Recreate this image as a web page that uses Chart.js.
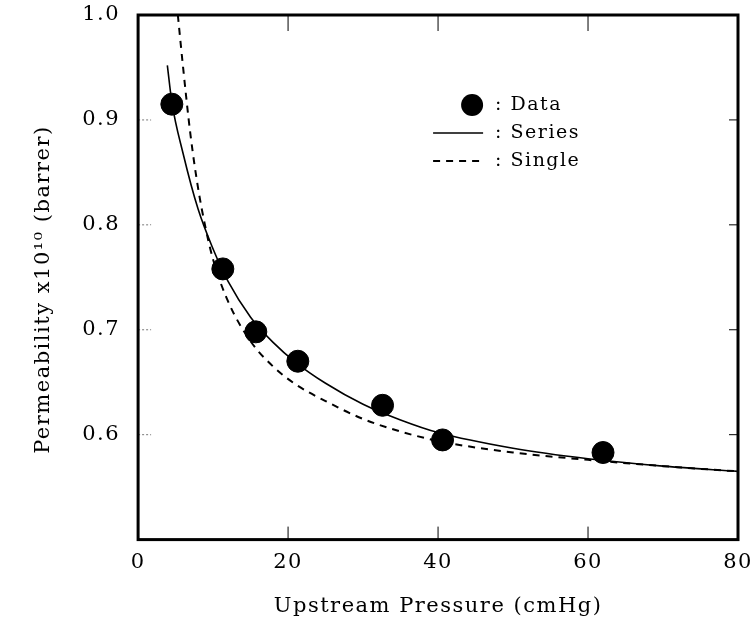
<!DOCTYPE html>
<html>
<head>
<meta charset="utf-8">
<script src="https://cdn.jsdelivr.net/npm/chart.js@4.4.1/dist/chart.umd.min.js"></script>
<style>
  html,body{margin:0;padding:0;background:#fff;}
  #wrap{width:752px;height:633px;}
</style>
</head>
<body>
<div id="wrap"><canvas id="permChart"></canvas></div>
<script>
// ---- data ----
const dataPressure=[4.5,11.3,15.7,21.3,32.6,40.6,62.0];
const dataPerm=[0.915,0.758,0.698,0.670,0.628,0.595,0.583];

const seriesPressure=[3.9,4.5,6,8,10,12,15,18,21,25,30,35,40,50,60,70,80];
const seriesPerm=[0.952,0.917,0.868,0.815,0.777,0.746,0.712,0.688,0.669,0.649,0.629,0.614,0.602,0.587,0.577,0.570,0.565];

const singlePressure=[5.3,6,7,8,9,10,12,15,18,21,25,30,35,40,50,60,70,80];
const singlePerm=[1.0,0.95,0.885,0.835,0.797,0.767,0.727,0.689,0.665,0.648,0.632,0.615,0.603,0.594,0.583,0.576,0.570,0.565];

const legendLabels=['Data','Series','Single'];
const xTicks=[0,20,40,60,80];
const yTicks=[0.6,0.7,0.8,0.9,1.0];

const FONT='"DejaVu Serif", "Liberation Serif", serif';
const toXY=(xs,ys)=>xs.map((x,i)=>({x:x,y:ys[i]}));

// letter spacing like the typeset original
const spacing={
  id:'spacing',
  beforeUpdate(chart){chart.ctx.letterSpacing='1.5px';},
  beforeDraw(chart){chart.ctx.letterSpacing='1.5px';}
};

// thick frame + inward ticks on all four sides
const frame={
  id:'frame',
  afterDatasetsDraw(chart){
    const {ctx,chartArea:a,scales:{x,y}}=chart;
    ctx.save();
    ctx.strokeStyle='#000';
    ctx.lineWidth=1;
    xTicks.slice(1,-1).forEach(v=>{
      const px=x.getPixelForValue(v);
      ctx.beginPath();ctx.moveTo(px,a.bottom);ctx.lineTo(px,a.bottom-13);ctx.stroke();
      ctx.beginPath();ctx.moveTo(px,a.top);ctx.lineTo(px,a.top+16);ctx.stroke();
    });
    yTicks.slice(0,-1).forEach(v=>{
      const py=y.getPixelForValue(v);
      ctx.beginPath();ctx.moveTo(a.right,py);ctx.lineTo(a.right-9,py);ctx.stroke();
      ctx.save();
      ctx.strokeStyle='#777';ctx.setLineDash([2,2]);
      ctx.beginPath();ctx.moveTo(a.left,py);ctx.lineTo(a.left+13,py);ctx.stroke();
      ctx.restore();
    });
    ctx.lineWidth=3;
    ctx.strokeRect(a.left,a.top,a.right-a.left,a.bottom-a.top);
    ctx.restore();
  }
};

// legend inside the plot, upper right
const insideLegend={
  id:'insideLegend',
  afterDraw(chart){
    const {ctx,chartArea:a}=chart;
    ctx.save();
    ctx.letterSpacing='1.5px';
    ctx.font='19px '+FONT;
    ctx.fillStyle='#000';
    ctx.textBaseline='middle';
    ctx.textAlign='left';
    const x0=a.left+295, x1=a.left+345, tx=a.left+357;
    chart.data.datasets.forEach((ds,i)=>{
      const yy=a.top+90+i*28;
      if(ds.showLine===false){
        ctx.beginPath();ctx.arc(x1-11,yy,11,0,Math.PI*2);ctx.fill();
      }else{
        ctx.save();
        ctx.strokeStyle='#000';ctx.lineWidth=ds.borderWidth;
        ctx.setLineDash(ds.borderDash||[]);
        ctx.beginPath();ctx.moveTo(x0,yy);ctx.lineTo(x1,yy);ctx.stroke();
        ctx.restore();
      }
      ctx.fillText(': '+ds.label,tx,yy);
    });
    ctx.restore();
  }
};

new Chart(document.getElementById('permChart').getContext('2d'),{
  type:'scatter',
  data:{datasets:[
    {label:legendLabels[0],data:toXY(dataPressure,dataPerm),showLine:false,
     pointRadius:11,pointHoverRadius:11,backgroundColor:'#000',borderColor:'#000',order:0},
    {label:legendLabels[1],data:toXY(seriesPressure,seriesPerm),showLine:true,
     borderColor:'#000',borderWidth:1.6,pointRadius:0,cubicInterpolationMode:'monotone',order:1},
    {label:legendLabels[2],data:toXY(singlePressure,singlePerm),showLine:true,
     borderColor:'#000',borderWidth:2,borderDash:[7,6],pointRadius:0,cubicInterpolationMode:'monotone',order:2},
  ]},
  options:{
    responsive:true,
    maintainAspectRatio:false,
    animation:false,
    layout:{padding:{top:0,right:0,left:27,bottom:10}},
    plugins:{legend:{display:false},tooltip:{enabled:false}},
    scales:{
      x:{type:'linear',min:0,max:80,
        afterBuildTicks:s=>{s.ticks=xTicks.map(v=>({value:v}));},
        afterFit:s=>{s.paddingRight=14;},
        ticks:{color:'#000',font:{family:FONT,size:21},padding:10,maxRotation:0},
        grid:{display:false,drawTicks:false},border:{display:false},
        title:{display:true,text:'Upstream Pressure (cmHg)',color:'#000',font:{family:FONT,size:21},padding:{top:9}}},
      y:{type:'linear',min:0.5,max:1.0,
        afterBuildTicks:s=>{s.ticks=yTicks.map(v=>({value:v}));},
        afterFit:s=>{s.paddingTop=15;},
        ticks:{color:'#000',font:{family:FONT,size:21,lineHeight:1},padding:18,callback:v=>v.toFixed(1)},
        grid:{display:false,drawTicks:false},border:{display:false},
        title:{display:true,text:'Permeability x10\u00b9\u2070 (barrer)   ',color:'#000',font:{family:FONT,size:21},padding:{bottom:8}}}
    }
  },
  plugins:[spacing,frame,insideLegend]
});
</script>
</body>
</html>
